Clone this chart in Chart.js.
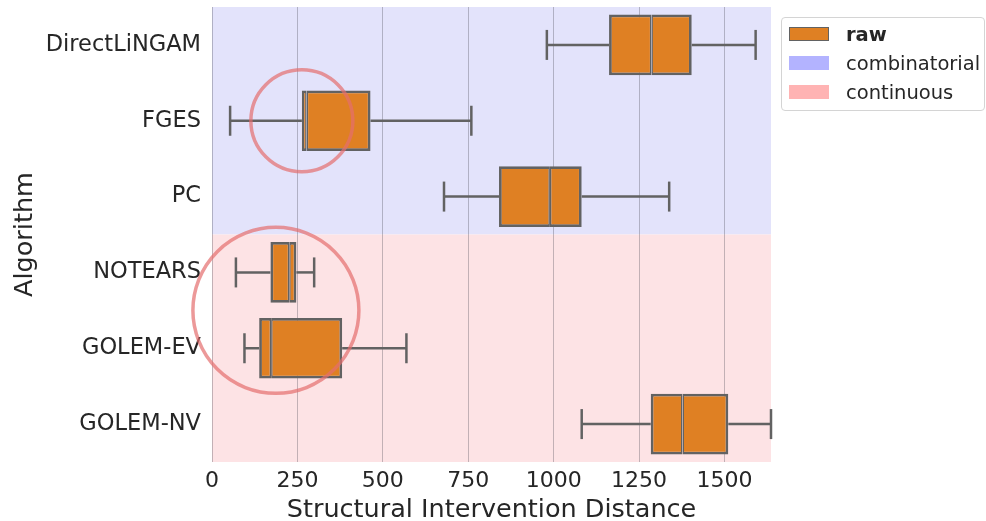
<!DOCTYPE html>
<html>
<head>
<meta charset="utf-8">
<script src="https://cdn.jsdelivr.net/npm/chart.js@4"></script>
<style>
  html, body { margin: 0; padding: 0; background: #fff; }
  #wrap { position: relative; width: 986px; height: 521px; }
  #legend {
    position: absolute; left: 781px; top: 17px; width: 204px; height: 94px;
    border: 1px solid #d4d4d4; border-radius: 4px; background: #fff;
    box-sizing: border-box; font-family: 'DejaVu Sans', sans-serif;
    font-size: 19.5px; color: #262626;
  }
  .row { position: absolute; left: 0; height: 29px; display: flex; align-items: center; white-space: nowrap; }
  .sw { width: 40px; height: 14px; margin-left: 7px; margin-right: 17px; box-sizing: border-box; }
</style>
</head>
<body>
<div id="wrap">
  <canvas id="chart" width="986" height="521"></canvas>
  <div id="legend"></div>
</div>
<script>
// Structural Intervention Distance per algorithm (box-plot summaries)
const categories  = ['DirectLiNGAM', 'FGES', 'PC', 'NOTEARS', 'GOLEM-EV', 'GOLEM-NV'];
const groups      = ['combinatorial', 'combinatorial', 'combinatorial', 'continuous', 'continuous', 'continuous'];
const groupNames  = ['combinatorial', 'continuous'];
const whiskerLow  = [980, 53, 679, 70, 95, 1082];
const q1          = [1162, 263, 840, 171, 138, 1284];
const median      = [1286, 277, 989, 226, 173, 1377];
const q3          = [1404, 464, 1082, 247, 381, 1511];
const whiskerHigh = [1591, 759, 1338, 299, 569, 1636];
const tickValues  = [0, 250, 500, 750, 1000, 1250, 1500];
const axisMax     = 1636;
// highlighted regions (x value, row position)
const highlightX  = [263, 187];
const highlightY  = [1, 3.5];

const seriesLabel = 'raw';
const boxFill  = '#df8023';
const lineGray = '#626262';
const bandColors  = ['#e3e3fb', '#fde3e5'];
const patchColors = ['#b3b3ff', '#ffb3b3'];
const FONT = "'DejaVu Sans', sans-serif";
const TEXT = '#262626';

// shaded background per algorithm family, placed via the chart scales
const bandPlugin = {
  id: 'groupBands',
  beforeDraw(chart) {
    const { ctx } = chart;
    const xs = chart.scales.x, ys = chart.scales.y;
    const left = xs.getPixelForValue(xs.min), right = xs.getPixelForValue(xs.max);
    ctx.save();
    groupNames.forEach((g, gi) => {
      const idx = groups.map((v, i) => (v === g ? i : -1)).filter(i => i >= 0);
      const y0 = ys.getPixelForValue(Math.min(...idx) - 0.5);
      const y1 = ys.getPixelForValue(Math.max(...idx) + 0.5);
      ctx.fillStyle = bandColors[gi];
      ctx.fillRect(left, y0, right - left, y1 - y0);
    });
    ctx.restore();
  }
};

const boxCommon = {
  type: 'bar',
  indexAxis: 'y',
  backgroundColor: boxFill,
  borderColor: lineGray,
  borderSkipped: false,
  barPercentage: 0.8,
  categoryPercentage: 1,
  grouped: false,
  order: 1
};

const whiskerSets = [];
categories.forEach((c, i) => {
  const common = {
    type: 'scatter', indexAxis: 'x', showLine: true, clip: false,
    borderColor: lineGray, borderWidth: 2.5,
    pointStyle: 'line', rotation: 90, pointBorderColor: lineGray, pointBorderWidth: 2.5,
    pointHoverRadius: 0, order: 2
  };
  whiskerSets.push(Object.assign({}, common, {
    data: [{ x: whiskerLow[i], y: i }, { x: q1[i], y: i }],
    pointRadius: [15, 0]
  }));
  whiskerSets.push(Object.assign({}, common, {
    data: [{ x: q3[i], y: i }, { x: whiskerHigh[i], y: i }],
    pointRadius: [0, 15]
  }));
});

const chart = new Chart(document.getElementById('chart'), {
  type: 'bar',
  data: {
    datasets: [
      {
        type: 'scatter', indexAxis: 'x', clip: false, showLine: false,
        data: highlightX.map((x, i) => ({ x, y: highlightY[i] })),
        pointRadius: [51, 83], pointStyle: 'circle',
        pointBackgroundColor: 'rgba(0,0,0,0)',
        pointBorderColor: 'rgba(228,110,110,0.7)', pointBorderWidth: 3.5,
        order: 0
      },
      Object.assign({}, boxCommon, {
        label: seriesLabel,
        data: q1.map((v, i) => ({ x: [v, median[i]], y: i })),
        borderWidth: { top: 2.75, bottom: 2.75, left: 2.75, right: 1.5 }
      }),
      Object.assign({}, boxCommon, {
        data: median.map((v, i) => ({ x: [v, q3[i]], y: i })),
        borderWidth: { top: 2.75, bottom: 2.75, left: 1.5, right: 2.75 }
      }),
      ...whiskerSets
    ]
  },
  options: {
    indexAxis: 'y',
    responsive: false,
    animation: false,
    events: [],
    layout: { autoPadding: false, padding: { top: 7, right: 215, left: 0, bottom: 0 } },
    plugins: { legend: { display: false }, tooltip: { enabled: false } },
    scales: {
      x: {
        type: 'linear', min: 0, max: axisMax, offset: false,
        afterBuildTicks: s => { s.ticks = tickValues.map(v => ({ value: v })); },
        afterFit: s => { s.height = 59; s.paddingLeft = 0; s.paddingRight = 0; },
        grid: { color: 'rgba(60,60,70,0.3)', lineWidth: 1, drawTicks: false, offset: false },
        border: { display: false },
        ticks: { font: { family: FONT, size: 22 }, color: TEXT, padding: 6, maxRotation: 0,
                 callback: v => String(v) },
        title: { display: true, text: 'Structural Intervention Distance',
                 font: { family: FONT, size: 25.5, lineHeight: 0.85 }, color: TEXT, padding: 0 }
      },
      y: {
        type: 'linear', reverse: true, offset: false,
        min: -0.5, max: categories.length - 0.5,
        afterBuildTicks: s => { s.ticks = categories.map((c, i) => ({ value: i })); },
        afterFit: s => { s.width = 212; s.paddingTop = 0; s.paddingBottom = 0; },
        grid: { display: false, drawTicks: false },
        border: { display: false },
        ticks: { font: { family: FONT, size: 22.5 }, color: TEXT, padding: 11,
                 callback: v => categories[v] },
        title: { display: true, text: 'Algorithm',
                 font: { family: FONT, size: 25.5, lineHeight: 1.2 }, color: TEXT, padding: { top: 10 } }
      }
    }
  },
  plugins: [bandPlugin]
});

// legend: series entry plus one entry per algorithm family
const legendEl = document.getElementById('legend');
const entries = [{ text: seriesLabel, fill: boxFill, border: lineGray, bold: true }]
  .concat(groupNames.map((g, i) => ({ text: g, fill: patchColors[i], border: null, bold: false })));
entries.forEach((e, i) => {
  const row = document.createElement('div');
  row.className = 'row';
  row.style.top = (1.5 + i * 29) + 'px';
  const sw = document.createElement('span');
  sw.className = 'sw';
  sw.style.background = e.fill;
  if (e.border) sw.style.border = '1.5px solid ' + e.border;
  const tx = document.createElement('span');
  tx.textContent = e.text;
  if (e.bold) tx.style.fontWeight = 'bold';
  row.appendChild(sw);
  row.appendChild(tx);
  legendEl.appendChild(row);
});
</script>
</body>
</html>
